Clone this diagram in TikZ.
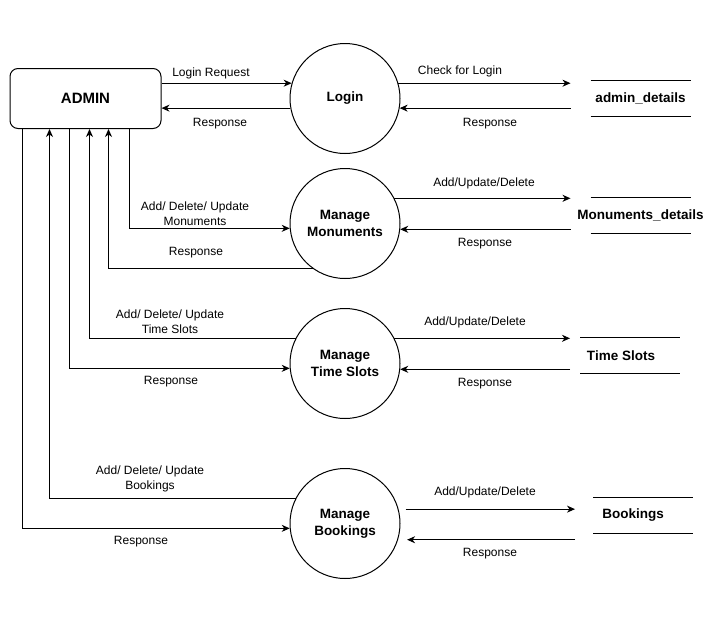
\documentclass[tikz,border=0pt]{standalone}
\usepackage{fontspec}
\setmainfont{Liberation Sans}
\usetikzlibrary{arrows.meta}

\begin{document}
\begin{tikzpicture}[x=1pt,y=-1pt,line width=1pt]
\tikzset{flow/.style = {->,> = {Stealth[length=8pt,width=7pt,inset=2.5pt]}}}
\tikzset{lbl/.style = {inner sep=0pt,align=center,font=\fontsize{12}{15}\selectfont}}
\tikzset{proc/.style = {shape=circle,draw=black,minimum size=110pt,inner sep=0pt,align=center,font=\bfseries\fontsize{13.5}{17}\selectfont}}
\tikzset{store/.style = {minimum height=35pt,inner sep=0pt,font=\bfseries\fontsize{13.5}{17}\selectfont,
  append after command={([xshift=-50pt+#1]\tikzlastnode.north) edge ([xshift=50pt+#1]\tikzlastnode.north)
                        ([xshift=-50pt+#1]\tikzlastnode.south) edge ([xshift=50pt+#1]\tikzlastnode.south)}},
         store/.default=0pt}

\useasboundingbox (0,0) rectangle (722,621);

\node[draw=black,rounded corners=8pt,minimum width=151pt,minimum height=60pt,font=\bfseries\fontsize{15}{18}\selectfont] (admin) at (85.5,98.5) {ADMIN};
\node[proc] (login) at (345,98.5) {Login};
\node[proc] (mon) at (345,223.5) {Manage\\Monuments};
\node[proc] (slot) at (345,363.5) {Manage\\Time Slots};
\node[proc] (book) at (345,523.5) {Manage\\Bookings};
\node[store] (ad) at (640.5,98.5) {admin\_details};
\node[store] (md) at (640.5,215.5) {Monuments\_details};
\node[store=9pt] (ts) at (621,355.5) {Time Slots};
\node[store=10pt] (bk) at (633,515.5) {Bookings};

% login
\draw[flow] (admin.east |- login.164) -- (login.164);
\draw[flow] (login.190) -- (admin.east |- login.190);
\draw[flow] (login.16) -- ([xshift=-70pt]ad.center |- login.16);
\draw[flow] ([xshift=-70pt]ad.center |- login.350) -- (login.350);
\node[lbl] (t1) at (211,73.5) {Login Request};
\node[lbl] (t2) at (220,123.5) {Response};
\node[lbl] (t3) at (460,71.5) {Check for Login};
\node[lbl] (t4) at (490,123.5) {Response};

% monuments
\draw[flow] ([xshift=120pt]admin.south west) |- (mon.185);
\draw[flow] (mon.235) -| ([xshift=99pt]admin.south west);
\draw[flow] (mon.27) -- ([xshift=-70pt]md.center |- mon.27);
\draw[flow] ([xshift=-70pt]md.center |- mon.354) -- (mon.354);
\node[lbl] (t5) at (195,213.5) {Add/ Delete/ Update\\Monuments};
\node[lbl] (t6) at (196,252.5) {Response};
\node[lbl] (t7) at (484,183.5) {Add/Update/Delete};
\node[lbl] (t8) at (485,243.5) {Response};

% time slots
\draw[flow] (slot.153) -| ([xshift=80pt]admin.south west);
\draw[flow] ([xshift=60pt]admin.south west) |- (slot.185);
\draw[flow] (slot.27) -- ([xshift=-51pt]ts.center |- slot.27);
\draw[flow] ([xshift=-51pt]ts.center |- slot.354) -- (slot.354);
\node[lbl] (t9) at (170,321.5) {Add/ Delete/ Update\\Time Slots};
\node[lbl] (t10) at (171,381.5) {Response};
\node[lbl] (t11) at (475,322.5) {Add/Update/Delete};
\node[lbl] (t12) at (485,383.5) {Response};

% bookings
\draw[flow] (book.153) -| ([xshift=40pt]admin.south west);
\draw[flow] ([xshift=13pt]admin.south west) |- (book.185);
\draw[flow] ([xshift=7pt]book.15) -- ([xshift=-58pt]bk.center |- book.15);
\draw[flow] ([xshift=-58pt]bk.center |- book.343) -- ([xshift=9pt]book.343);
\node[lbl] (t13) at (150,478.5) {Add/ Delete/ Update\\Bookings};
\node[lbl] (t14) at (141,541.5) {Response};
\node[lbl] (t15) at (485,492.5) {Add/Update/Delete};
\node[lbl] (t16) at (490,553.5) {Response};
\end{tikzpicture}
\end{document}
